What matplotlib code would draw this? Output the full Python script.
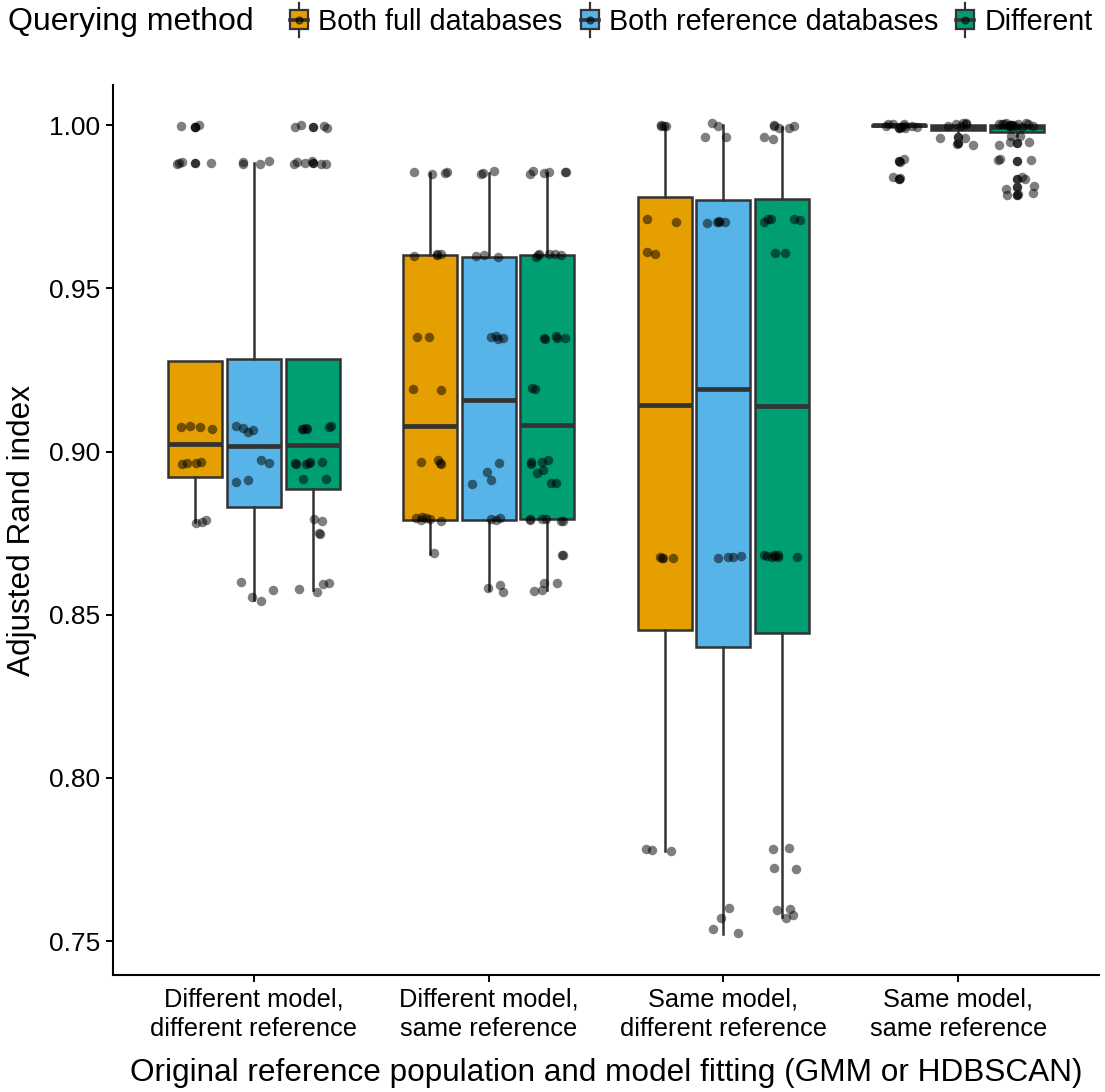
import matplotlib.pyplot as plt
import numpy as np
from matplotlib.patches import Rectangle
from matplotlib.lines import Line2D
from matplotlib.legend_handler import HandlerBase

plt.rcParams['font.family'] = ['Liberation Sans', 'DejaVu Sans']

groups = ['Different model,\ndifferent reference', 'Different model,\nsame reference',
          'Same model,\ndifferent reference', 'Same model,\nsame reference']
methods = ['Both full databases', 'Both reference databases', 'Different']
colours = ['#E69F00', '#56B4E9', '#009E73']

# ARI values per comparison, one list per (group, querying method)
dd_full = [0.9995]*3 + [0.9885]*4 + [0.9073]*4 + [0.8968]*4 + [0.8785]*3
dd_ref = [0.9885]*4 + [0.9081, 0.9075, 0.9066, 0.9070] + [0.8971]*2 + [0.8912]*2 + \
    [0.8598, 0.8578, 0.8560, 0.8542]
dd_diff = [0.9995]*4 + [0.9885]*6 + [0.9073]*6 + [0.8968]*6 + [0.8915]*2 + [0.8790]*2 + \
    [0.8753]*2 + [0.8597]*2 + [0.8573]*2

ds_full = [0.9854]*4 + [0.9602]*4 + [0.9349]*2 + [0.9191]*2 + [0.8967]*4 + [0.8793]*6 + [0.8686]
ds_ref = [0.9854]*3 + [0.9600]*3 + [0.9350]*4 + [0.8965, 0.8938, 0.8912, 0.8906] + \
    [0.8793]*3 + [0.8597, 0.8587, 0.8570]
ds_diff = [0.9854]*6 + [0.9600]*6 + [0.9350]*5 + [0.9191]*2 + [0.8967]*4 + [0.8938]*2 + \
    [0.8905]*2 + [0.8793]*6 + [0.8683]*2 + [0.8591]*2 + [0.8570]*2

sd_full = [0.9997]*4 + [0.9709]*2 + [0.9610]*2 + [0.8678]*4 + [0.7777]*3
sd_ref = [0.9995, 1.0] + [0.9960]*2 + [0.9709]*3 + [0.9700]*2 + [0.8678]*4 + \
    [0.7598, 0.7577, 0.7541, 0.7522]
sd_diff = [0.9995]*5 + [0.9960]*2 + [0.9709]*5 + [0.9610]*2 + [0.8678]*8 + [0.7782]*2 + \
    [0.7725]*2 + [0.7595]*2 + [0.7575]*2

ss_full = [0.9998]*9 + [0.9990] + [0.9890]*2 + [0.9835]*2
ss_ref = [1.0]*6 + [0.9964]*2 + [0.9944]*2
ss_diff = [1.0]*15 + [0.9966]*2 + [0.9946]*3 + [0.9890]*3 + [0.9835]*2 + [0.9810]*2 + [0.9786]*3

points = [[dd_full, dd_ref, dd_diff],
          [ds_full, ds_ref, ds_diff],
          [sd_full, sd_ref, sd_diff],
          [ss_full, ss_ref, ss_diff]]

# box statistics, rows = groups, columns = querying methods
q1 = [[0.8922, 0.8831, 0.8885], [0.8790, 0.8790, 0.8793],
      [0.8453, 0.8401, 0.8445], [0.9996, 0.9984, 0.9980]]
med = [[0.9023, 0.9017, 0.9020], [0.9078, 0.9157, 0.9080],
       [0.9142, 0.9190, 0.9139], [1.0000, 0.9995, 0.9994]]
q3 = [[0.9277, 0.9283, 0.9283], [0.9601, 0.9596, 0.9601],
      [0.9779, 0.9772, 0.9773], [1.0000, 1.0000, 1.0000]]
whislo = [[0.8785, 0.8545, 0.8575], [0.8686, 0.8575, 0.8575],
          [0.7777, 0.7522, 0.7575], [0.9996, 0.9980, 0.9966]]
whishi = [[0.9277, 0.9885, 0.9283], [0.9854, 0.9854, 0.9854],
          [0.9997, 1.0000, 0.9995], [1.0000, 1.0000, 1.0000]]
fliers = [[[0.9995, 0.9885], [], [0.9995, 0.9885]],
          [[], [], []],
          [[], [], []],
          [[0.9990, 0.9890, 0.9835], [0.9964, 0.9944], [0.9946, 0.9890, 0.9835, 0.9810, 0.9786]]]

edge = '#333333'
fig = plt.figure(figsize=(11.05, 10.92), dpi=100)
ax = fig.add_axes([113/1105, 1 - 975/1092, (1099 - 113)/1105, (975 - 85)/1092])

rng = np.random.default_rng(11)
for g in range(4):
    for m in range(3):
        pos = g + 1 + (m - 1) * 0.25
        stats = [dict(q1=q1[g][m], med=med[g][m], q3=q3[g][m],
                      whislo=whislo[g][m], whishi=whishi[g][m], fliers=fliers[g][m])]
        ax.bxp(stats, positions=[pos], widths=0.23, patch_artist=True, showcaps=False,
               boxprops=dict(facecolor=colours[m], edgecolor=edge, linewidth=1.8),
               medianprops=dict(color=edge, linewidth=3.4, solid_capstyle='butt'),
               whiskerprops=dict(color=edge, linewidth=1.8),
               flierprops=dict(marker='o', markerfacecolor=edge, markeredgecolor='none',
                               markersize=6.8),
               manage_ticks=False)
        vals = np.array(points[g][m])
        xs = pos + rng.uniform(-0.08, 0.08, len(vals))
        ys = vals + rng.uniform(-0.0006, 0.0006, len(vals))
        ax.scatter(xs, ys, s=47, color='black', alpha=0.5, linewidths=0, zorder=4)

ax.set_xlim(0.4, 4.6)
ax.set_ylim(0.7396, 1.0123)
ax.set_xticks([1, 2, 3, 4])
ax.set_xticklabels(groups, fontsize=18.3, linespacing=1.3)
yt = [0.75, 0.80, 0.85, 0.90, 0.95, 1.00]
ax.set_yticks(yt)
ax.set_yticklabels(['%.2f' % v for v in yt], fontsize=19)
ax.tick_params(length=5, width=1.4, color='black', labelcolor='black', pad=4)
for s in ['top', 'right']:
    ax.spines[s].set_visible(False)
for s in ['left', 'bottom']:
    ax.spines[s].set_linewidth(1.5)
    ax.spines[s].set_color('black')
ax.set_xlabel('Original reference population and model fitting (GMM or HDBSCAN)',
              fontsize=22.7, labelpad=12)
ax.set_ylabel('Adjusted Rand index', fontsize=22.7, labelpad=9)


class BoxKey(HandlerBase):
    def create_artists(self, legend, orig_handle, xdescent, ydescent,
                       width, height, fontsize, trans):
        cx = width / 2 - xdescent
        cy = height / 2 - ydescent
        bh = 0.33 * fontsize
        wh = 0.6 * fontsize
        whisk = Line2D([cx, cx], [cy - wh, cy + wh], color=edge, lw=1.6, transform=trans)
        box = Rectangle((-xdescent, cy - bh), width, 2 * bh, facecolor=orig_handle,
                        edgecolor=edge, lw=1.6, transform=trans)
        mid = Line2D([-xdescent, width - xdescent], [cy, cy], color=edge, lw=2.6,
                     transform=trans)
        dot = Line2D([cx], [cy], marker='o', ms=5, color='black', alpha=0.5, lw=0,
                     transform=trans)
        return [whisk, box, mid, dot]


fig.text(8/1105, 1 - 22/1092, 'Querying method', fontsize=23, va='center', ha='left')
fig.legend(handles=colours, labels=methods, handler_map={str: BoxKey()},
           ncol=3, loc='center left', bbox_to_anchor=(290/1105, 1 - 22/1092),
           frameon=False, fontsize=20.7, handlelength=0.63, handletextpad=0.36,
           columnspacing=0.62, borderpad=0, borderaxespad=0)

fig.savefig('out.png', dpi=100)
